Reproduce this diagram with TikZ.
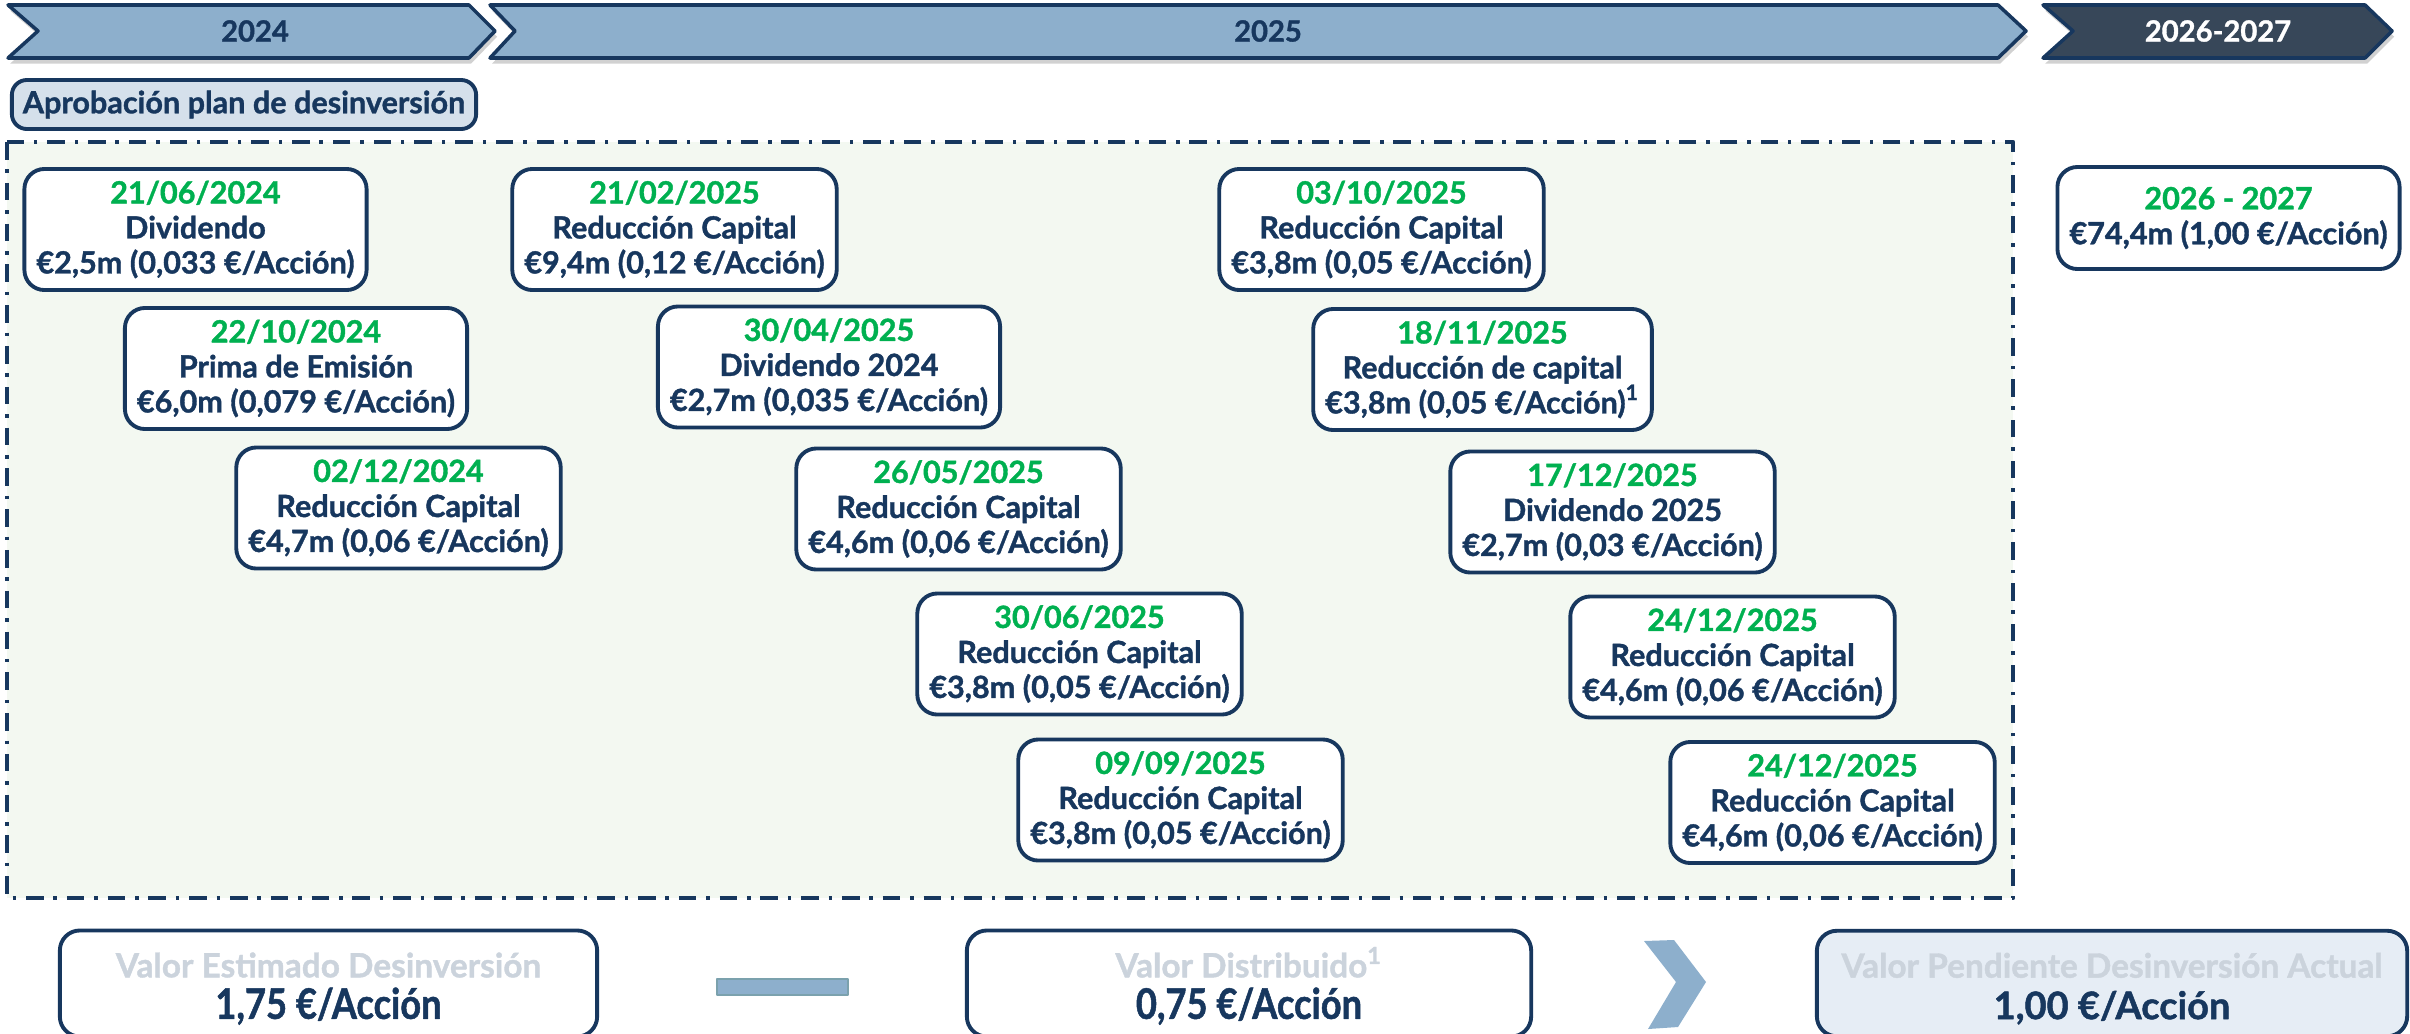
\documentclass[tikz,border=0pt]{standalone}
\usepackage{fontspec}
\setmainfont{Lato}[BoldFeatures={FakeBold=1.2}]
\newfontfamily\condensada{Lato}[FakeStretch=0.86,BoldFeatures={FakeBold=1.2}]
\usepackage{tikz}

\definecolor{navy}{HTML}{17375E}
\definecolor{chevfill}{HTML}{8DAFCC}
\definecolor{chevdark}{HTML}{374759}
\definecolor{fecha}{HTML}{00B050}
\definecolor{panel}{HTML}{F3F8F1}
\definecolor{grislbl}{HTML}{CBD3DC}
\definecolor{azulclaro}{HTML}{D5E0EB}
\definecolor{azulpend}{HTML}{E6EDF5}
\definecolor{barborde}{HTML}{7BA1AD}

\newcommand{\fch}[1]{\textcolor{fecha}{#1}}
\newcommand{\etq}[1]{{\color{grislbl}\normalfont\bfseries\fontsize{9.5}{10}\selectfont\rule{0pt}{10pt}#1}}

\begin{document}
\begin{tikzpicture}[x=0.01cm,y=-0.01cm,line join=round,
        chev/.style={fill=chevfill,draw=navy,line width=1pt,
            preaction={fill=black!18,transform canvas={xshift=0.6pt,yshift=-1.6pt}}},
        yearlbl/.style={text=navy,font=\fontsize{8.3}{10}\selectfont\bfseries},
        ev/.style={draw=navy,line width=1.1pt,fill=white,rounded corners=0.2cm,align=center,
            text=navy,font=\fontsize{8.7}{9.96}\selectfont\bfseries,inner xsep=0.12cm,
            minimum height=1.21cm},
        total/.style={draw=navy,line width=1.1pt,rounded corners=0.2cm,align=center,text=navy,
            font=\condensada\fontsize{12}{11.8}\selectfont\bfseries,minimum height=0.93cm}]
        \useasboundingbox (0,0) rectangle (2410,1033);

        % linea de tiempo
        \draw [chev] (8,5) -- (469,5) -- (495,31) -- (469,58) -- (8,58) -- (38,31) -- cycle;
        \draw [chev] (490,5) -- (1998,5) -- (2026,31) -- (1998,58) -- (490,58) -- (515,31) -- cycle;
        \draw [chev,fill=chevdark] (2043,5) -- (2365,5) -- (2392,31) -- (2365,58) -- (2043,58) -- (2073,31) -- cycle;
        \node [yearlbl] (y24) at (255,31) {2024};
        \node [yearlbl] (y25) at (1268,31) {2025};
        \node [yearlbl,text=white] (y26) at (2218,31) {2026-2027};

        \node [draw=navy,line width=1.1pt,fill=azulclaro,rounded corners=0.15cm,text=navy,
            font=\fontsize{8.7}{10}\selectfont\bfseries,minimum width=4.64cm,minimum height=0.49cm,
            inner sep=0pt] (aprob) at (244,104.5) {Aprobación plan de desinversión};

        \fill [panel] (7,142) rectangle (2013,898);
        \draw [navy,line width=1.3pt,dash pattern=on 5pt off 2.8pt on 1pt off 2.8pt]
            (7,142) rectangle (2013,898);

        % 2024
        \node [ev] (e1) at (195.5,229.5) {\fch{21/06/2024}\\Dividendo\\€2,5m (0,033 €/Acción)};
        \node [ev] (e2) at (296,368.5) {\fch{22/10/2024}\\Prima de Emisión\\€6,0m (0,079 €/Acción)};
        \node [ev] (e3) at (398.5,508) {\fch{02/12/2024}\\Reducción Capital\\€4,7m (0,06 €/Acción)};
        % 2025
        \node [ev] (e4) at (674.5,229.5) {\fch{21/02/2025}\\Reducción Capital\\€9,4m (0,12 €/Acción)};
        \node [ev] (e5) at (829,367) {\fch{30/04/2025}\\Dividendo 2024\\€2,7m (0,035 €/Acción)};
        \node [ev] (e6) at (958.5,509) {\fch{26/05/2025}\\Reducción Capital\\€4,6m (0,06 €/Acción)};
        \node [ev] (e7) at (1079.5,654) {\fch{30/06/2025}\\Reducción Capital\\€3,8m (0,05 €/Acción)};
        \node [ev] (e8) at (1180.5,800) {\fch{09/09/2025}\\Reducción Capital\\€3,8m (0,05 €/Acción)};
        \node [ev] (e9) at (1381.5,229.5) {\fch{03/10/2025}\\Reducción Capital\\€3,8m (0,05 €/Acción)};
        \node [ev] (e10) at (1482.5,369.5) {\fch{18/11/2025}\\Reducción de capital\\€3,8m (0,05 €/Acción)\textsuperscript{1}};
        \node [ev] (e11) at (1612.5,512) {\fch{17/12/2025}\\Dividendo 2025\\€2,7m (0,03 €/Acción)};
        \node [ev] (e12) at (1732.5,657) {\fch{24/12/2025}\\Reducción Capital\\€4,6m (0,06 €/Acción)};
        \node [ev] (e13) at (1832.5,802.5) {\fch{24/12/2025}\\Reducción Capital\\€4,6m (0,06 €/Acción)};
        % 2026-2027
        \node [ev,minimum height=1.02cm] (e14) at (2228.5,218) {\fch{2026 - 2027}\\€74,4m (1,00 €/Acción)};

        % resumen
        \node [total,minimum width=5.37cm] (vest) at (328.5,983.5)
            {\etq{Valor Estimado Desinversión}\\1,75 €/Acción};
        \fill [chevfill,draw=barborde,line width=0.8pt] (717,979) rectangle (848,995);
        \node [total,minimum width=5.64cm] (vdis) at (1249,983.5)
            {\etq{Valor Distribuido\textsuperscript{1}}\\0,75 €/Acción};
        \fill [chevfill] (1644,941) -- (1674,940) -- (1706,982) -- (1678,1027) -- (1648,1029) -- (1676,982) -- cycle;
        \node [total,fill=azulpend,minimum width=5.9cm,font=\fontsize{10.8}{11.8}\selectfont\bfseries] (vpen) at (2112,983.5)
            {\etq{Valor Pendiente Desinversión Actual}\\1,00 €/Acción};
\end{tikzpicture}
\end{document}
